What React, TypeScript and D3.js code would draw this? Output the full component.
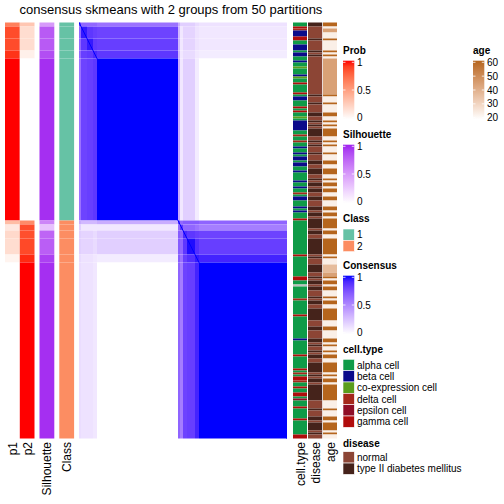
import React from "react";
import * as d3 from "d3";

// ---- data ----
const title = "consensus skmeans with 2 groups from 50 partitions";
// ordered sample segments (rows/cols of the consensus matrix)
const segSizes = [2, 6, 6, 4, 81, 2, 3, 4, 8, 4, 88];
const segClass = [1, 1, 1, 1, 1, 2, 2, 2, 2, 2, 2];
const segP1 = [0.65, 0.86, 0.86, 0.93, 1, 0.35, 0.12, 0.2, 0.18, 0.06, 0];
const segP2 = [0.3, 0.18, 0.18, 0.08, 0, 0.6, 0.86, 0.85, 0.87, 0.95, 1];
const segSil = [0.5, 0.8, 0.8, 0.85, 0.96, 0.6, 0.3, 0.75, 0.78, 0.9, 0.96];
const consensusBlocks = [
  [0.85, 0.65, 0.65, 0.65, 0.6, 0.35, 0.2, 0.2, 0.2, 0.15, 0.12],
  [0.65, 0.95, 0.85, 0.82, 0.8, 0.3, 0.1, 0.18, 0.18, 0.12, 0.1],
  [0.65, 0.85, 0.95, 0.84, 0.82, 0.3, 0.1, 0.18, 0.18, 0.12, 0.1],
  [0.65, 0.82, 0.84, 0.9, 0.85, 0.3, 0.1, 0.15, 0.15, 0.1, 0.08],
  [0.6, 0.8, 0.82, 0.85, 1.0, 0.35, 0.1, 0.2, 0.2, 0.08, 0.0],
  [0.35, 0.3, 0.3, 0.3, 0.35, 0.85, 0.65, 0.7, 0.7, 0.7, 0.66],
  [0.2, 0.1, 0.1, 0.1, 0.1, 0.65, 0.85, 0.65, 0.65, 0.6, 0.55],
  [0.2, 0.18, 0.18, 0.15, 0.2, 0.7, 0.65, 0.9, 0.85, 0.82, 0.8],
  [0.2, 0.18, 0.18, 0.15, 0.2, 0.7, 0.65, 0.85, 0.98, 0.88, 0.82],
  [0.15, 0.12, 0.12, 0.1, 0.08, 0.7, 0.6, 0.82, 0.88, 0.95, 0.92],
  [0.14, 0.12, 0.12, 0.1, 0.0, 0.66, 0.55, 0.8, 0.82, 0.92, 1.0],
];

// run starts: [first sample, value]
const cellTypeRuns: [number, string][] = [
  [0, "A"], [2, "G"], [3, "D"], [4, "B"], [7, "G"], [9, "A"], [11, "B"], [14, "A"], [15, "B"],
  [17, "A"], [19, "B"], [20, "A"], [22, "C"], [23, "A"], [26, "B"], [27, "C"], [28, "A"],
  [30, "G"], [31, "A"], [35, "G"], [36, "A"], [37, "B"], [39, "A"], [42, "G"], [43, "A"],
  [44, "G"], [45, "A"], [47, "C"], [48, "A"], [49, "B"], [54, "A"], [56, "D"], [57, "A"],
  [59, "D"], [60, "A"], [62, "B"], [63, "A"], [65, "B"], [66, "A"], [67, "B"], [69, "A"],
  [70, "B"], [72, "A"], [74, "B"], [75, "A"], [79, "B"], [80, "A"], [82, "B"], [83, "A"],
  [85, "D"], [86, "A"], [87, "B"], [89, "A"], [92, "B"], [93, "A"], [94, "B"], [95, "A"],
  [98, "G"], [99, "A"], [116, "G"], [117, "A"], [127, "G"], [129, "A"], [131, "N"], [132, "A"],
  [138, "D"], [139, "A"], [146, "G"], [147, "A"], [158, "B"], [159, "A"], [166, "G"], [167, "A"],
  [173, "G"], [174, "A"], [175, "D"], [176, "A"], [177, "G"], [179, "D"], [180, "A"], [182, "G"],
  [183, "A"], [185, "G"], [187, "A"], [188, "E"], [189, "A"], [192, "G"], [193, "A"], [198, "G"],
  [199, "A"], [206, "G"],
];
const diseaseRuns: [number, string][] = [
  [0, "T"], [2, "N"], [8, "T"], [9, "N"], [14, "T"], [15, "N"], [16, "T"], [17, "N"], [36, "T"],
  [37, "N"], [40, "T"], [41, "N"], [45, "T"], [47, "N"], [49, "T"], [50, "N"], [51, "T"], [52, "N"],
  [53, "T"], [57, "N"], [59, "T"], [60, "N"], [61, "T"], [62, "N"], [65, "T"], [66, "N"], [69, "T"],
  [71, "N"], [73, "T"], [76, "N"], [78, "T"], [79, "N"], [80, "T"], [82, "N"], [83, "T"], [85, "N"],
  [87, "T"], [89, "N"], [92, "T"], [94, "N"], [95, "T"], [97, "N"], [98, "T"], [103, "N"], [104, "T"],
  [106, "N"], [108, "T"], [116, "N"], [117, "T"], [118, "N"], [121, "T"], [125, "N"], [127, "T"],
  [128, "N"], [129, "T"], [131, "N"], [132, "T"], [134, "N"], [137, "T"], [138, "N"], [139, "T"],
  [141, "N"], [143, "T"], [149, "N"], [152, "T"], [154, "N"], [158, "T"], [160, "N"], [161, "T"],
  [162, "N"], [164, "T"], [165, "N"], [166, "T"], [168, "N"], [170, "T"], [175, "N"], [176, "T"],
  [177, "N"], [178, "T"], [180, "N"], [181, "T"], [189, "N"], [193, "T"], [194, "N"], [197, "T"],
  [199, "N"], [200, "T"], [204, "N"], [205, "T"], [206, "N"],
];
const ageRuns: [number, number][] = [
  [0, 60], [2, 24], [3, 44], [5, 24], [8, 60], [9, 24], [14, 60], [15, 24], [16, 60], [17, 24],
  [18, 44], [36, 60], [37, 24], [40, 60], [41, 24], [45, 60], [47, 24], [49, 60], [50, 24], [51, 60],
  [52, 24], [53, 60], [57, 24], [59, 60], [60, 24], [61, 60], [62, 24], [65, 60], [66, 24], [69, 60],
  [71, 24], [73, 60], [76, 24], [78, 60], [79, 24], [80, 60], [82, 24], [83, 60], [85, 24], [87, 60],
  [89, 24], [92, 60], [94, 24], [95, 60], [97, 24], [98, 60], [103, 24], [104, 60], [106, 24],
  [108, 60], [116, 24], [117, 60], [118, 24], [121, 37], [125, 44], [127, 60], [128, 24], [129, 60],
  [131, 24], [132, 60], [134, 24], [137, 60], [138, 24], [139, 60], [141, 24], [143, 60], [149, 24],
  [152, 60], [154, 24], [158, 60], [160, 24], [161, 60], [162, 24], [164, 60], [165, 24], [166, 60],
  [168, 24], [170, 60], [175, 24], [176, 60], [177, 24], [178, 60], [180, 24], [181, 60], [189, 24],
  [193, 60], [194, 24], [197, 60], [199, 24], [200, 60], [204, 24], [205, 60], [206, 24],
];

const cellTypeLabels = ["alpha cell", "beta cell", "co-expression cell", "delta cell", "epsilon cell", "gamma cell"];
const cellTypeCodes = ["A", "B", "C", "D", "E", "G"];
const cellTypeColors = ["#0F9B48", "#0B0B8B", "#5B9E1C", "#A5281B", "#8F0E26", "#B00C0C"];
const naColor = "#BEBEBE";
const diseaseLabels = ["normal", "type II diabetes mellitus"];
const diseaseCodes = ["N", "T"];
const diseaseColors = ["#8C4535", "#45231B"];
const classLabels = ["1", "2"];
const classColors = ["#66C2A5", "#FC8D62"];
const probTicks = [0, 0.5, 1];
const ageTicks = [20, 30, 40, 50, 60];

const FONT = "'Liberation Sans', Arial, Helvetica, sans-serif";

export default function App() {
  const N = d3.sum(segSizes);
  const segStarts = segSizes.map((_, i) => d3.sum(segSizes.slice(0, i)));
  const x = d3.scaleLinear().domain([0, N]).range([79, 287]);
  const y = d3.scaleLinear().domain([0, N]).range([22.5, 438.5]);

  const lab = (c: string) => d3.scaleLinear<string>().domain([0, 1]).range(["#FFFFFF", c]).interpolate(d3.interpolateLab).clamp(true);
  const blue = lab("#0000FF");
  const red = lab("#FF0000");
  const purple = lab("#A020F0");
  const age = d3.scaleLinear<string>().domain([20, 60]).range(["#FFFFFF", "#B5651D"]).interpolate(d3.interpolateLab).clamp(true);
  const ctColor = d3.scaleOrdinal<string, string>().domain(cellTypeCodes).range(cellTypeColors).unknown(naColor);
  const dsColor = d3.scaleOrdinal<string, string>().domain(diseaseCodes).range(diseaseColors);

  const runs = <T,>(r: [number, T][]) => r.map((d, i) => ({ s: d[0], e: i < r.length - 1 ? r[i + 1][0] : N, v: d[1] }));

  const cells: JSX.Element[] = [];
  segSizes.forEach((ri, i) => {
    segSizes.forEach((cj, j) => {
      cells.push(
        <rect key={`b${i}-${j}`} x={x(segStarts[j])} y={y(segStarts[i])} width={x(segStarts[j] + cj) - x(segStarts[j])}
          height={y(segStarts[i] + ri) - y(segStarts[i])} fill={blue(consensusBlocks[i][j])} />
      );
    });
  });
  // diagonal: each sample fully agrees with itself
  d3.range(N).forEach((k) => {
    cells.push(<rect key={`d${k}`} x={x(k)} y={y(k)} width={x(k + 1) - x(k)} height={y(k + 1) - y(k)} fill={blue(1)} />);
  });

  const segCol = (vals: number[], scale: (v: number) => string, x0: number, x1: number, key: string) =>
    segSizes.map((s, i) => (
      <rect key={key + i} x={x0} width={x1 - x0} y={y(segStarts[i])} height={y(segStarts[i] + s) - y(segStarts[i])} fill={scale(vals[i])} />
    ));

  const bottomLabels: [string, number][] = [["p1", 13], ["p2", 27.5], ["Silhouette", 47], ["Class", 67], ["cell.type", 300.5], ["disease", 315.5], ["age", 330.5]];

  const gradLegend = (id: string, t: string, x0: number, titleY: number, top: number, bottom: number, dom: [number, number], ticks: number[], scale: (v: number) => string) => {
    const ys = d3.scaleLinear().domain(dom).range([bottom, top]);
    const stops = d3.range(0, 1.0001, 0.1).map((f) => dom[1] - f * (dom[1] - dom[0]));
    return (
      <g key={id}>
        <defs>
          <linearGradient id={id} x1="0" y1="0" x2="0" y2="1">
            {stops.map((v, i) => <stop key={i} offset={`${i * 10}%`} stopColor={scale(v)} />)}
          </linearGradient>
        </defs>
        <text x={x0} y={titleY} fontSize={10} fontWeight="bold" fontFamily={FONT}>{t}</text>
        <rect x={x0} y={top - 1.6} width={11.3} height={bottom - top + 3.2} fill={`url(#${id})`} />
        {ticks.map((v) => (
          <g key={v}>
            <line x1={x0} x2={x0 + 2.5} y1={ys(v)} y2={ys(v)} stroke="#fff" strokeWidth={0.8} />
            <line x1={x0 + 8.8} x2={x0 + 11.3} y1={ys(v)} y2={ys(v)} stroke="#fff" strokeWidth={0.8} />
            <text x={x0 + 14} y={ys(v)} dy="0.36em" fontSize={10} fontFamily={FONT}>{String(v)}</text>
          </g>
        ))}
      </g>
    );
  };

  const discLegend = (t: string, titleY: number, top: number, labels: string[], colors: string[]) => (
    <g key={t}>
      <text x={343} y={titleY} fontSize={10} fontWeight="bold" fontFamily={FONT}>{t}</text>
      {labels.map((l, i) => (
        <g key={l}>
          <rect x={343} y={top + i * 11.34} width={11.34} height={11.34} fill={colors[i]} stroke="#fff" strokeWidth={0.6} />
          <text x={357} y={top + i * 11.34 + 5.67} dy="0.36em" fontSize={10} fontFamily={FONT}>{l}</text>
        </g>
      ))}
    </g>
  );

  return (
    <svg width={504} height={504} style={{ position: "absolute", left: 0, top: 0, background: "#fff" }}>
      <text x={171} y={14} textAnchor="middle" fontSize={13} fontFamily={FONT}>{title}</text>
      {segCol(segP1, red, 5, 19.8, "p1")}
      {segCol(segP2, red, 19.8, 34.5, "p2")}
      {segCol(segSil, purple, 39.5, 54.3, "sil")}
      {segSizes.map((s, i) => (
        <rect key={"cl" + i} x={59.3} width={14.8} y={y(segStarts[i])} height={y(segStarts[i] + s) - y(segStarts[i])} fill={classColors[segClass[i] - 1]} />
      ))}
      <g>{cells}</g>
      {runs(cellTypeRuns).map((r, i) => (
        <rect key={"ct" + i} x={293} width={14} y={y(r.s)} height={y(r.e) - y(r.s)} fill={ctColor(r.v)} />
      ))}
      {runs(diseaseRuns).map((r, i) => (
        <rect key={"ds" + i} x={308} width={14.2} y={y(r.s)} height={y(r.e) - y(r.s)} fill={dsColor(r.v)} />
      ))}
      {runs(ageRuns).map((r, i) => (
        <rect key={"ag" + i} x={323} width={14} y={y(r.s)} height={y(r.e) - y(r.s)} fill={age(r.v)} />
      ))}
      {bottomLabels.map(([t, cx]) => (
        <text key={t} transform={`translate(${cx},442) rotate(-90)`} textAnchor="end" dy="0.36em" fontSize={12} fontFamily={FONT}>{t}</text>
      ))}
      {gradLegend("gProb", "Prob", 343, 54, 62.3, 117.7, [0, 1], probTicks, red)}
      {gradLegend("gAge", "age", 473, 54, 62.3, 117.7, [20, 60], ageTicks, age)}
      {gradLegend("gSil", "Silhouette", 343, 138, 146.3, 201.7, [0, 1], probTicks, purple)}
      {discLegend("Class", 222, 229, classLabels, classColors)}
      {gradLegend("gCons", "Consensus", 343, 269, 277.3, 332.7, [0, 1], probTicks, blue)}
      {discLegend("cell.type", 353, 359.3, cellTypeLabels, cellTypeColors)}
      {discLegend("disease", 446.5, 451.7, diseaseLabels, diseaseColors)}
    </svg>
  );
}
